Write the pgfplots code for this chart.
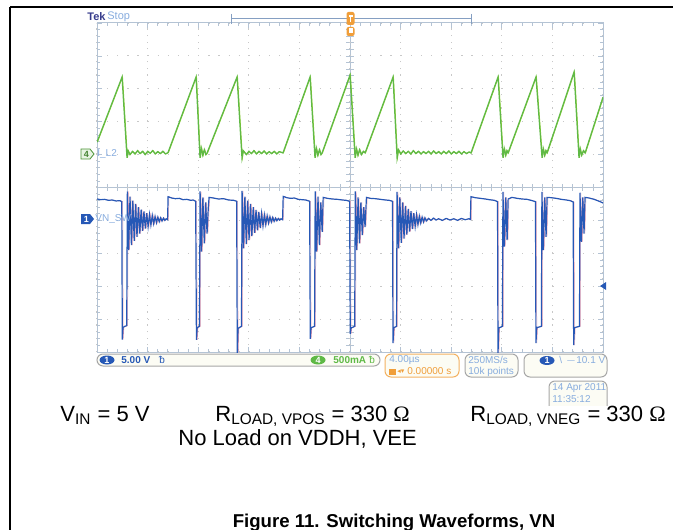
\documentclass[border=0pt]{standalone}
\usepackage{fontspec}
\setmainfont{Liberation Sans}
\newfontfamily\omfont{Liberation Serif}
\newfontfamily\symfont{DejaVu Sans}
\usepackage{pgfplots}
\usepackage{pgfplotstable}
\pgfplotsset{compat=1.18}

\definecolor{gridc}{RGB}{200,200,200}
\definecolor{framec}{RGB}{180,195,212}
\definecolor{chgreen}{RGB}{95,185,70}
\definecolor{chblue}{RGB}{38,88,182}
\definecolor{chpink}{RGB}{235,135,155}
\definecolor{tekblue}{RGB}{135,172,222}
\definecolor{teknavy}{RGB}{55,60,140}
\definecolor{tekorange}{RGB}{240,158,58}
\definecolor{barfill}{RGB}{252,252,244}

% I_L2 (channel 4), time in us, level in divisions from screen centre
\pgfplotstableread{
t y
0 1.38
1.98 3.36
2.37 0.90
2.45 1.12
2.6 1.0
2.8 1.1
3.0 1.02
3.2 1.12
3.4 1.03
3.6 1.1
3.8 1.0
4.0 1.1
4.2 1.04
4.4 1.12
4.6 1.02
4.8 1.09
5.0 1.03
5.2 1.1
5.4 1.02
5.61 1.06
7.83 3.36
8.14 0.90
8.24 1.2
8.36 0.98
8.48 1.15
8.6 1.0
8.70 1.05
11.07 3.36
11.46 0.90
11.55 1.12
11.8 1.0
12.0 1.1
12.2 1.03
12.4 1.12
12.6 1.02
12.8 1.1
13.0 1.03
13.2 1.11
13.4 1.02
13.6 1.09
13.8 1.03
14.0 1.1
14.2 1.02
14.4 1.09
14.70 1.05
16.84 3.36
17.23 0.90
17.33 1.2
17.45 0.98
17.58 1.15
17.7 1.0
17.79 1.05
20.0 3.42
20.40 0.90
20.5 1.18
20.62 0.98
20.75 1.15
20.9 1.0
21.05 1.1
21.19 1.05
23.40 3.36
23.72 0.90
23.82 1.15
24.0 1.02
24.2 1.11
24.4 1.03
24.6 1.1
24.8 1.02
25.0 1.12
25.2 1.03
25.4 1.1
25.6 1.02
25.8 1.09
26.0 1.03
26.2 1.1
26.4 1.02
26.6 1.11
26.8 1.03
27.0 1.09
27.2 1.02
27.4 1.1
27.6 1.03
27.8 1.11
28.0 1.02
28.2 1.09
28.4 1.03
28.6 1.1
28.8 1.02
29.0 1.09
29.2 1.03
29.4 1.08
29.56 1.05
31.70 3.36
32.09 0.90
32.19 1.18
32.3 0.98
32.4 1.12
32.49 1.05
34.70 3.36
35.18 0.90
35.27 1.18
35.38 0.98
35.48 1.12
35.57 1.05
37.71 3.51
38.10 0.90
38.19 1.18
38.3 0.98
38.45 1.12
38.58 1.05
40 2.75
}\iltwo

% VN_SW (channel 1)
\pgfplotstableread{
t y
0 -0.35
0.3 -0.37
0.6 -0.36
0.9 -0.39
1.2 -0.38
1.5 -0.41
1.8 -0.40
1.96 -0.43
2.0 -4.62
2.06 -4.25
2.2 -4.22
2.35 -4.2
2.40 -0.12
2.50 -1.9
2.61 -0.28
2.72 -1.75
2.83 -0.4
2.94 -1.62
3.05 -0.5
3.16 -1.5
3.27 -0.6
3.38 -1.4
3.49 -0.67
3.60 -1.32
3.71 -0.73
3.82 -1.25
3.93 -0.78
4.04 -1.19
4.15 -0.82
4.26 -1.14
4.37 -0.85
4.48 -1.1
4.59 -0.88
4.70 -1.07
4.81 -0.9
4.92 -1.04
5.03 -0.92
5.14 -1.02
5.25 -0.93
5.36 -1.0
5.47 -0.95
5.58 -0.98
5.62 -0.28
5.9 -0.32
6.2 -0.34
6.5 -0.33
6.8 -0.37
7.1 -0.36
7.4 -0.39
7.6 -0.38
7.80 -0.42
7.86 -4.63
7.92 -4.26
8.10 -4.22
8.15 -0.12
8.26 -1.95
8.37 -0.3
8.48 -1.7
8.59 -0.45
8.70 -1.4
8.80 -0.6
8.86 -0.3
9.2 -0.32
9.6 -0.35
10.0 -0.34
10.4 -0.38
10.8 -0.39
11.04 -0.42
11.09 -5.05
11.15 -4.28
11.42 -4.22
11.47 -0.1
11.58 -1.85
11.69 -0.28
11.80 -1.72
11.91 -0.4
12.02 -1.6
12.13 -0.5
12.24 -1.48
12.35 -0.6
12.46 -1.38
12.57 -0.68
12.68 -1.3
12.79 -0.74
12.90 -1.23
13.01 -0.79
13.12 -1.17
13.23 -0.83
13.34 -1.12
13.45 -0.86
13.56 -1.08
13.67 -0.89
13.78 -1.05
13.89 -0.91
14.0 -1.03
14.11 -0.93
14.22 -1.01
14.33 -0.94
14.44 -0.99
14.55 -0.95
14.67 -0.98
14.72 -0.27
15.0 -0.31
15.3 -0.33
15.6 -0.32
15.9 -0.36
16.2 -0.37
16.5 -0.38
16.81 -0.42
16.86 -4.6
16.92 -4.26
17.20 -4.22
17.25 -0.12
17.36 -1.95
17.47 -0.28
17.58 -1.75
17.69 -0.45
17.80 -1.35
17.88 -0.3
18.2 -0.33
18.6 -0.35
19.0 -0.36
19.4 -0.38
19.7 -0.39
19.97 -0.42
20.02 -4.45
20.08 -4.27
20.37 -4.22
20.42 -0.12
20.53 -1.9
20.64 -0.3
20.75 -1.7
20.86 -0.45
20.97 -1.45
21.08 -0.6
21.19 -1.2
21.3 -0.3
21.6 -0.33
22.0 -0.34
22.4 -0.36
22.8 -0.38
23.1 -0.39
23.36 -0.42
23.40 -4.73
23.46 -4.26
23.68 -4.22
23.72 -0.13
23.83 -1.85
23.94 -0.3
24.05 -1.68
24.16 -0.45
24.27 -1.55
24.38 -0.56
24.49 -1.43
24.60 -0.65
24.71 -1.34
24.82 -0.72
24.93 -1.26
25.04 -0.78
25.15 -1.19
25.26 -0.83
25.37 -1.13
25.48 -0.87
25.59 -1.08
25.70 -0.9
25.81 -1.05
25.92 -0.92
26.03 -1.02
26.2 -0.94
26.4 -1.0
26.6 -0.93
26.8 -0.99
27.0 -0.95
27.3 -1.0
27.6 -0.94
27.9 -0.99
28.2 -0.95
28.5 -1.0
28.8 -0.94
29.1 -0.98
29.4 -0.95
29.52 -0.97
29.56 -0.28
29.9 -0.31
30.3 -0.33
30.7 -0.35
31.0 -0.37
31.4 -0.39
31.66 -0.43
31.70 -5.05
31.76 -4.27
32.05 -4.22
32.09 -0.13
32.20 -1.8
32.31 -0.3
32.42 -1.6
32.50 -0.35
32.8 -0.30
33.2 -0.33
33.6 -0.35
34.0 -0.36
34.4 -0.40
34.66 -0.43
34.70 -4.73
34.76 -4.26
35.13 -4.22
35.17 -0.13
35.28 -1.9
35.39 -0.3
35.50 -1.5
35.58 -0.3
35.9 -0.31
36.3 -0.33
36.7 -0.36
37.1 -0.38
37.4 -0.40
37.64 -0.44
37.68 -4.79
37.74 -4.26
38.14 -4.22
38.18 -0.16
38.29 -1.65
38.40 -0.3
38.50 -1.4
38.58 -0.3
38.9 -0.32
39.3 -0.36
39.7 -0.42
40 -0.47
}\vnsw

\begin{document}
\begin{tikzpicture}
\begin{scope}[x=0.5pt,y=-0.5pt]
  % page frame lines
  \draw[line width=0.75pt] (10,7) -- (673,7);
  \draw[line width=0.75pt] (10,7) -- (10,540);
  % centre cross of the graticule
  \draw[framec,line width=0.4pt] (350,23) -- (350,352);
  \draw[framec,line width=0.4pt] (97,187.5) -- (603,187.5);
  \foreach \k in {0,...,50} {
    \draw[framec,line width=0.35pt] ({97+\k*10.12},184.5) -- ({97+\k*10.12},190.5);
    \draw[framec,line width=0.35pt] (346,{23+\k*6.58}) -- (354,{23+\k*6.58});
  }
\end{scope}

\begin{axis}[
  at={(48.5pt,-176pt)}, anchor=south west,
  scale only axis, width=253pt, height=164.5pt,
  xmin=0, xmax=40, ymin=-5, ymax=5,
  xtick={0,4,...,40}, ytick={-5,-4,...,5},
  minor tick num=4,
  xticklabels={}, yticklabels={},
  tick align=inside,
  major tick length=2.5pt, minor tick length=1.5pt,
  tick style={framec, line width=0.35pt},
  axis line style={framec, line width=0.5pt},
  grid=major,
  x grid style={gridc, line width=0.6pt, dash pattern=on 0.6pt off 2.69pt},
  y grid style={gridc, line width=0.6pt, dash pattern=on 0.6pt off 4.46pt},
]
\addplot[chgreen!70!yellow, line width=0.4pt] table[x expr=\thisrowno{0}+0.04, y index=1] {\iltwo};
\addplot[chgreen, line width=0.6pt] table {\iltwo};
\addplot[chpink!80, line width=0.25pt] table[x expr=\thisrowno{0}+0.07, y index=1] {\vnsw};
\addplot[chblue, line width=0.6pt] table {\vnsw};
\end{axis}

\begin{scope}[x=0.5pt,y=-0.5pt, every node/.style={inner sep=0pt, font=\fontsize{5}{6}\selectfont}]
  % header
  \node[anchor=west, teknavy, font=\fontsize{5.5}{6}\selectfont\bfseries] at (87,17) {Tek};
  \node[anchor=west, tekblue, font=\fontsize{5.5}{6}\selectfont] at (107,17) {Stop};
  \draw[tekblue!70!gray, line width=0.5pt] (231,19) -- (471,19);
  \draw[tekblue!70!gray, line width=0.5pt] (231,14) -- (231,24) (471,14) -- (471,24);
  \fill[tekorange, rounded corners=1pt] (346.5,12) rectangle (354.5,25);
  \fill[white] (348.5,15) rectangle (352.5,17);
  \fill[white] (349.7,17) rectangle (351.3,22);
  \fill[tekorange, rounded corners=1pt] (346.5,27) rectangle (354.5,36);
  \fill[white] (348.5,28) rectangle (352.5,33);
  % channel markers
  \draw[chgreen!80!black, fill=chgreen!15, line width=0.4pt] (81,149) -- (90,149) -- (94,154) -- (90,159) -- (81,159) -- cycle;
  \node[chgreen!70!black, font=\fontsize{4.5}{5}\selectfont\bfseries] at (86.5,154) {4};
  \node[anchor=west, tekblue] at (97,154) {I\_L2};
  \fill[chblue] (81,214) -- (90,214) -- (94,219) -- (90,224) -- (81,224) -- cycle;
  \node[white, font=\fontsize{4.5}{5}\selectfont\bfseries] at (86.5,219) {1};
  \node[anchor=west, tekblue] at (95,219) {VN\_SW};
  \fill[chblue] (600,286) -- (606,282) -- (606,290) -- cycle;
  % status bar
  \draw[gray!70, fill=barfill, rounded corners=3pt, line width=0.5pt] (97,354) rectangle (380,366);
  \fill[chblue] (107,360) ellipse (7.5 and 4.5);
  \node[white, font=\fontsize{4.5}{5}\selectfont\bfseries] at (107,360) {1};
  \node[anchor=west, chblue, font=\fontsize{5}{6}\selectfont\bfseries] at (121,360) {5.00 V};
  \node[anchor=west, chblue] at (159,360) {ᵬ};
  \fill[chgreen] (318,360) ellipse (7.5 and 4.5);
  \node[white, font=\fontsize{4.5}{5}\selectfont\bfseries] at (318,360) {4};
  \node[anchor=west, chgreen, font=\fontsize{5}{6}\selectfont\bfseries] at (333,360) {500mA};
  \node[anchor=west, chgreen] at (369,360) {ᵬ};
  \draw[tekorange!80, fill=barfill, rounded corners=3pt, line width=0.5pt] (385,354) rectangle (459,377);
  \node[anchor=west, tekblue] at (389,360) {4.00µs};
  \fill[tekorange] (389,368.5) rectangle (396,374.5);
  \node[anchor=west, tekorange] at (397,371.5) {\symfont\fontsize{3.5}{4}\selectfont ◂▾};
  \node[anchor=west, tekorange] at (407,371.5) {0.00000 s};
  \draw[gray!70, fill=barfill, rounded corners=3pt, line width=0.5pt] (465,354) rectangle (518,377);
  \node[anchor=west, tekblue] at (468,360) {250MS/s};
  \node[anchor=west, tekblue] at (468,371.5) {10k points};
  \draw[gray!70, fill=barfill, rounded corners=3pt, line width=0.5pt] (524,354) rectangle (607,377);
  \fill[chblue] (547,360.5) ellipse (7.5 and 4.5);
  \node[white, font=\fontsize{4.5}{5}\selectfont\bfseries] at (547,360.5) {1};
  \node[anchor=west, tekblue] at (559,360.5) {\textbackslash\,\,$-$10.1 V};
  \begin{scope}
    \clip (540,378) rectangle (615,405);
    \draw[gray!70, fill=barfill, rounded corners=3pt, line width=0.5pt] (549,381) rectangle (607,415);
    \node[anchor=west, tekblue] at (552,388) {14 Apr 2011};
    \node[anchor=west, tekblue] at (552,399) {11:35:12};
  \end{scope}
  % conditions
  \begin{scope}[every node/.style={inner sep=0pt, font=\fontsize{11}{13}\selectfont}]
    \node[anchor=base west] at (60,421) {V\textsubscript{IN} = 5 V};
    \node[anchor=base west] at (215,421) {R\textsubscript{LOAD, VPOS} = 330 {\omfont Ω}};
    \node[anchor=base west] at (470,421) {R\textsubscript{LOAD, VNEG} = 330 {\omfont Ω}};
    \node[anchor=base west] at (178,445) {No Load on VDDH, VEE};
  \end{scope}
  \node[anchor=base, font=\fontsize{9.3}{11}\selectfont\bfseries] at (394,527) {Figure 11. Switching Waveforms, VN};
\end{scope}
\pgfresetboundingbox
\path[x=0.5pt,y=-0.5pt] (0,0) rectangle (673,529);
\end{tikzpicture}
\end{document}
